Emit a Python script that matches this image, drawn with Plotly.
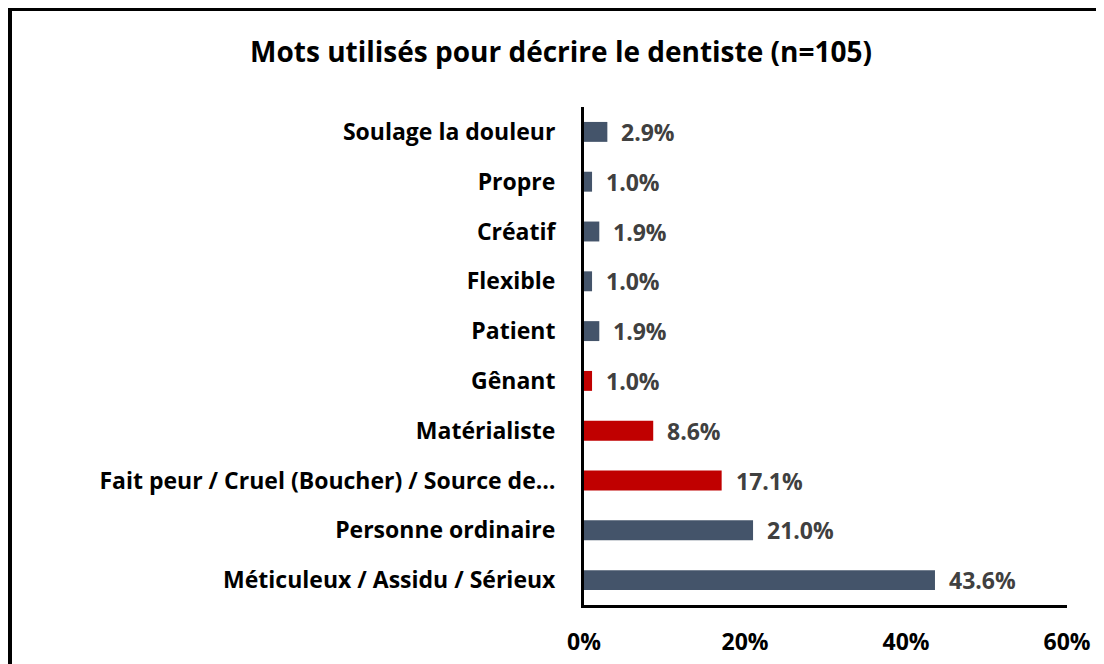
import plotly.graph_objects as go

categories = [
    "Méticuleux / Assidu / Sérieux",
    "Personne ordinaire",
    "Fait peur / Cruel (Boucher) / Source de…",
    "Matérialiste",
    "Gênant",
    "Patient",
    "Flexible",
    "Créatif",
    "Propre",
    "Soulage la douleur",
]
values = [43.6, 21.0, 17.1, 8.6, 1.0, 1.9, 1.0, 1.9, 1.0, 2.9]
negative = [False, False, True, True, True, False, False, False, False, False]
tick_vals = [0, 20, 40, 60]
tick_text = ["0%", "20%", "40%", "60%"]

BLUE = "#44546A"
RED = "#C00000"
colors = [RED if n else BLUE for n in negative]
FONT = "Open Sans"

fig = go.Figure(
    go.Bar(
        y=categories,
        x=values,
        orientation="h",
        marker=dict(color=colors, line=dict(width=0)),
        width=0.4,
        hoverinfo="skip",
    )
)

for c, v in zip(categories, values):
    fig.add_annotation(
        x=v, y=c, xref="x", yref="y",
        text=f"{v:.1f}%", showarrow=False,
        xanchor="left", xshift=12,
        font=dict(family=FONT, size=23, color="#404040", weight="bold"),
    )

# page body has an 8px margin: work in page coords minus 8
OFF = 8
W, H = 1104 - OFF, 664 - OFF
L, R, T, B = 584 - OFF, 37, 107 - OFF, 59
pw, ph = W - L - R, H - T - B

fig.add_shape(
    type="rect", xref="paper", yref="paper",
    x0=(10 - OFF - L) / pw, x1=(W + 20 - L) / pw,
    y0=-(B + 20) / ph, y1=1 + (T - (9 - OFF)) / ph,
    line=dict(color="black", width=4), layer="above",
)

fig.update_layout(
    width=W, height=H,
    margin=dict(l=L, r=R, t=T, b=B, autoexpand=False),
    paper_bgcolor="white", plot_bgcolor="white",
    showlegend=False,
    title=dict(
        text="Mots utilisés pour décrire le dentiste (n=105)",
        x=(561 - OFF) / W, xanchor="center", y=1 - (52 - OFF) / H, yanchor="middle",
        font=dict(family=FONT, size=28, color="black", weight="bold"),
    ),
    xaxis=dict(
        range=[0, 60], tickvals=tick_vals, ticktext=tick_text,
        showgrid=False, zeroline=False,
        showline=True, linecolor="black", linewidth=3,
        ticks="", ticklabelstandoff=14, automargin=False,
        tickfont=dict(family=FONT, size=23, color="black", weight="bold"),
        fixedrange=True,
    ),
    yaxis=dict(
        categoryorder="array", categoryarray=categories,
        showgrid=False, zeroline=False,
        showline=True, linecolor="black", linewidth=3,
        ticks="", ticklabelstandoff=21, automargin=False,
        tickfont=dict(family=FONT, size=23, color="black", weight="bold"),
        fixedrange=True,
    ),
)

fig.write_html("out.html")
